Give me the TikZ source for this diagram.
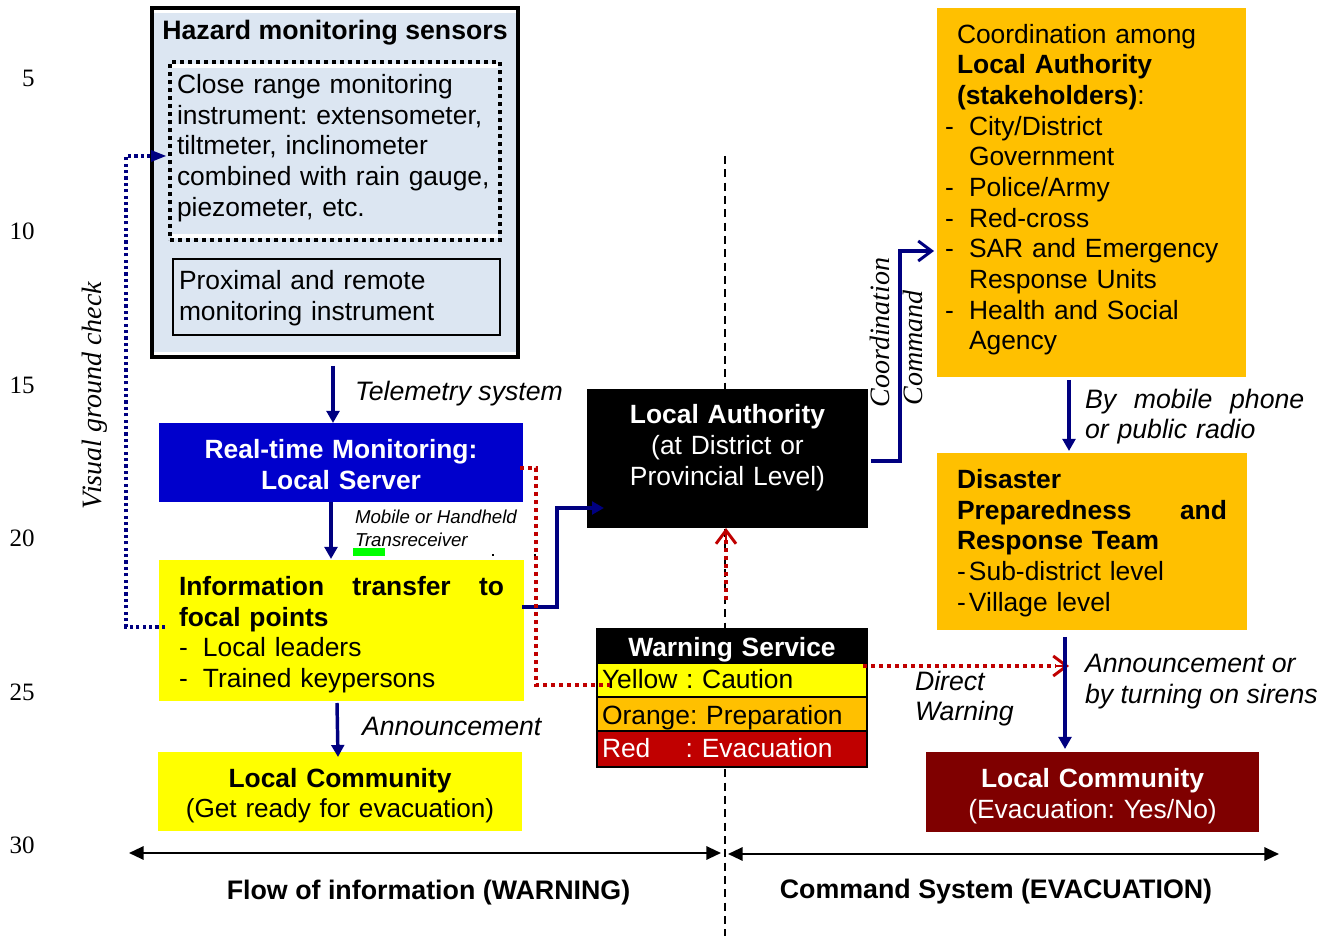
\documentclass[tikz,border=0pt]{standalone}
\usepackage{fontspec}
\setmainfont{Liberation Sans}
\newfontfamily\serifface{Liberation Serif}
\usetikzlibrary{arrows.meta}
\frenchspacing
\definecolor{navyline}{HTML}{000080}
\definecolor{dotred}{HTML}{C00000}
\definecolor{paleblue}{HTML}{DCE6F2}
\definecolor{amber}{HTML}{FFC000}
\definecolor{maroonbox}{HTML}{7F0000}
\definecolor{blueserver}{HTML}{0000CC}
\definecolor{signalyellow}{HTML}{FFFF00}
\definecolor{signalgreen}{HTML}{00FF00}
\newcommand{\txt}{\fontsize{19.8}{23}\selectfont}
\newcommand{\bigb}{\fontsize{20.1}{23}\selectfont\bfseries}
\newcommand{\lit}{\fontsize{20}{23}\selectfont\itshape}
\newcommand{\itm}[1]{\makebox[18pt][l]{-}#1}
\newcommand{\sub}[1]{\hspace*{-9pt}\makebox[18pt][l]{-}#1}
\newcommand{\subc}[1]{\hspace*{9pt}#1}
% move a centred text block down (first line) by #1 px
\newcommand{\dn}[1]{\rule{0pt}{\dimexpr 14.5pt+#1pt*3/2\relax}}
% \pxbox[style]{name}{x0}{y0}{x1}{y1}{pad}{text}
\newcommand{\pxbox}[8][]{%
  \pgfmathsetmacro\bxc{(#3+#5)/2}\pgfmathsetmacro\byc{(#4+#6)/2}%
  \pgfmathsetmacro\bxw{(#5-#3)*0.75}\pgfmathsetmacro\byh{(#6-#4)*0.75}%
  \pgfmathsetmacro\bxt{(#5-#3-2*#7)*0.75}%
  \node[boxbase,minimum width=\bxw pt,minimum height=\byh pt,text width=\bxt pt,#1] (#2) at (\bxc,\byc) {#8};}
\tikzset{
  x=0.75pt,y=-0.75pt,
  boxbase/.style={rectangle,inner sep=0pt,outer sep=0pt,font=\txt,align=left},
  flow/.style={navyline,line width=2.6pt,line join=miter},
  solidtip/.style={flow,-{Triangle[length=9pt,width=9.5pt]}},
  opentip/.style={-{Straight Barb[length=10pt,width=15pt,line width=2.2pt]}},
  dottedblue/.style={navyline,line width=2.4pt,dash pattern=on 2.4pt off 2.4pt},
  dottedred/.style={dotred,line width=2.4pt,dash pattern=on 3pt off 3pt},
  span/.style={black,line width=1.6pt,{Triangle[length=11pt,width=10pt]}-{Triangle[length=11pt,width=10pt]}},
  free/.style={inner sep=0pt,outer sep=0pt,font=\txt,align=left},
  scale num/.style={inner sep=0pt,font=\serifface\fontsize{18.75}{20}\selectfont,anchor=east},
  sidelabel/.style={inner sep=0pt,font=\serifface\itshape\fontsize{21}{23}\selectfont},
}
\begin{document}
\begin{tikzpicture}
\useasboundingbox (0,0) rectangle (1329,937);
\fill[white] (0,0) rectangle (1329,937);
% axis numbers
\node[scale num] (n5) at (35,78) {5};
\node[scale num] (n10) at (35,231) {10};
\node[scale num] (n15) at (35,385) {15};
\node[scale num] (n20) at (35,538) {20};
\node[scale num] (n25) at (35,692) {25};
\node[scale num] (n30) at (35,845) {30};
% centre line
\coordinate (ctop) at (725,156);
\coordinate (cbot) at (725,936);
\draw[black,line width=1pt,dash pattern=on 6pt off 4pt] (ctop) -- (cbot);
% sensors
\pxbox[draw=black,fill=white,line width=3pt]{sensors}{152}{8}{518}{357}{0}{}
\fill[paleblue] (154,13) rectangle (516,352);
\node[free,font=\fontsize{20}{23}\selectfont\bfseries] (hazard) at (335,33) {Hazard monitoring sensors};
\fill[white] (172,64) rectangle (498,238);
\fill[paleblue] (172,68) rectangle (498,234);
\pxbox[draw=black,line width=3pt,dash pattern=on 3pt off 3pt]{close}{170}{62}{500}{240}{7}{Close range monitoring\\instrument: extensometer,\\tiltmeter, inclinometer\\combined with rain gauge,\\piezometer, etc.\rule[-8.5pt]{0pt}{0pt}}
\fill[paleblue] (173,259) rectangle (500,331);
\pxbox[draw=black,line width=1.4pt]{prox}{173}{259}{500}{335}{6}{\dn{1}Proximal and remote\\monitoring instrument}
% left column
\pxbox[fill=blueserver,text=white,align=center,font=\txt\bfseries]{server}{159}{423}{523}{502}{0}{\dn{2}Real-time Monitoring:\\Local Server}
\pxbox[fill=signalyellow]{info}{159}{560}{524}{701}{20}{\dn{4}\textbf{Information\hfill transfer\hfill to}\\\textbf{focal points}\\\itm{Local leaders}\\\itm{Trained keypersons}}
\pxbox[fill=signalyellow,align=center]{commA}{158}{752}{522}{831}{0}{\dn{4}\textbf{Local Community}\\{\fontsize{19.6}{23}\selectfont (Get ready for evacuation)}}
% local authority
\pxbox[fill=black,text=white,align=center]{authority}{587}{389}{868}{528}{0}{\textbf{Local Authority}\\(at District or\\Provincial Level)\rule[-20.5pt]{0pt}{0pt}}
% warning service
\pxbox[fill=black,text=white,draw=black,line width=1.2pt,align=center,font=\txt\bfseries]{wshead}{597}{629}{867}{663}{0}{\dn{4}Warning Service}
\pxbox[fill=signalyellow,draw=black,line width=1.2pt]{wsyellow}{597}{663}{867}{697}{5}{Yellow : Caution\rule[-1.5pt]{0pt}{0pt}}
\pxbox[fill=amber,draw=black,line width=1.2pt]{wsorange}{597}{697}{867}{731}{5}{\dn{4}Orange: Preparation}
\pxbox[fill=dotred,text=white,draw=black,line width=1.2pt]{wsred}{597}{731}{867}{767}{5}{Red\hspace{26.5pt}: Evacuation\rule[-1.5pt]{0pt}{0pt}}
% right column
\pxbox[fill=amber]{coord}{937}{8}{1246}{377}{20}{Coordination among\\\textbf{Local Authority}\\\textbf{(stakeholders)}:\\\sub{City/District}\\\subc{Government}\\\sub{Police/Army}\\\sub{Red-cross}\\\sub{SAR and Emergency}\\\subc{Response Units}\\\sub{Health and Social}\\\subc{Agency}\rule[-8.5pt]{0pt}{0pt}}
\pxbox[fill=amber]{team}{937}{453}{1247}{630}{20}{\dn{1.5}\textbf{Disaster}\\\textbf{Preparedness\hfill and}\\\textbf{Response Team}\\\makebox[9pt][l]{-}Sub-district level\\\makebox[9pt][l]{-}Village level}
\pxbox[fill=maroonbox,text=white,align=center]{commB}{926}{752}{1259}{832}{0}{\dn{4}\textbf{Local Community}\\(Evacuation: Yes/No)}
% free labels
\node[free,font=\lit,anchor=west] (telemetry) at (355,394) {Telemetry system};
\node[free,font=\itshape\fontsize{14}{17.2}\selectfont,anchor=north west] (mobile) at (355,510) {Mobile or Handheld\\Transreceiver};
\node[rectangle,fill=signalgreen,inner sep=0pt,minimum width=24pt,minimum height=5.6pt] (greenbar) at (369,552) {};
\fill[black] (492,554) rectangle (494,556);
\fill[black] (534,554) rectangle (536,556);
\node[free,font=\lit,anchor=west] (announce) at (362,726) {Announcement};
\node[free,font=\lit,anchor=north west] (direct) at (915,671) {Direct\\Warning};
\node[free,font=\lit,text width=164.5pt,anchor=north west] (phone) at (1085,389) {By\hfill mobile\hfill phone\\or public radio};
\node[free,font=\lit,anchor=north west] (sirens) at (1085,654) {Announcement or\\by turning on sirens};
\node[sidelabel,rotate=90] (ground) at (95,395.5) {Visual ground check};
\node[sidelabel,rotate=90] (coordlabel) at (880,332.5) {Coordination};
\node[sidelabel,rotate=90] (cmdlabel) at (913,348) {Command};
\node[free,font=\bigb] (flowlabel) at (428.5,893) {Flow of information (WARNING)};
\node[free,font=\bigb] (cmdsystem) at (996,892) {Command System (EVACUATION)};
% connector waypoints
\coordinate (a1) at (333,366);
\coordinate (a2) at (333,423);
\coordinate (b1) at (331,502);
\coordinate (b2) at (331,559);
\coordinate (c1) at (337,703);
\coordinate (c2) at (338,757);
\coordinate (d1) at (522,607);
\coordinate (d2) at (557,607);
\coordinate (d3) at (557,508);
\coordinate (d4) at (604,508);
\coordinate (e1) at (165,627);
\coordinate (e2) at (126,627);
\coordinate (e3) at (126,156);
\coordinate (e4) at (166,156);
\coordinate (f1) at (520,468);
\coordinate (f2) at (536,468);
\coordinate (f3) at (536,685);
\coordinate (f4) at (610,685);
\coordinate (g1) at (726,600);
\coordinate (g2) at (726,528);
\coordinate (h1) at (863,666);
\coordinate (h2) at (1069,666);
\coordinate (i1) at (871,461);
\coordinate (i2) at (900,461);
\coordinate (i3) at (900,251);
\coordinate (i4) at (934,251);
\coordinate (j1) at (1069,380);
\coordinate (j2) at (1069,451);
\coordinate (k1) at (1065,637);
\coordinate (k2) at (1065,749);
\coordinate (l1) at (129,853);
\coordinate (l2) at (721,853);
\coordinate (m1) at (728,854);
\coordinate (m2) at (1279,854);
% connectors
\draw[solidtip] (a1) -- (a2);
\draw[solidtip] (b1) -- (b2);
\draw[solidtip] (c1) -- (c2);
\draw[solidtip] (d1) -- (d2) -- (d3) -- (d4);
\draw[dottedblue] (e1) -- (e2) -- (e3) -- (156,156);
\fill[navyline] (e4) -- (151,150) -- (151,162) -- cycle;
\draw[dottedred] (g1) -- (726,540);
\draw[dottedred] (f1) -- (f2) -- (f3) -- (f4);
\draw[dotred,opentip,line width=2pt] (726,544) -- (g2);
\draw[dottedred] (h1) -- (1056,666);
\draw[dotred,opentip,line width=2pt] (1056,666) -- (h2);
\draw[flow] (i1) -- (i2) -- (i3) -- (926,251);
\draw[navyline,opentip,line width=2.4pt] (920,251) -- (i4);
\draw[solidtip] (j1) -- (j2);
\draw[solidtip] (k1) -- (k2);
\draw[span] (l1) -- (l2);
\draw[span] (m1) -- (m2);
\end{tikzpicture}
\end{document}
